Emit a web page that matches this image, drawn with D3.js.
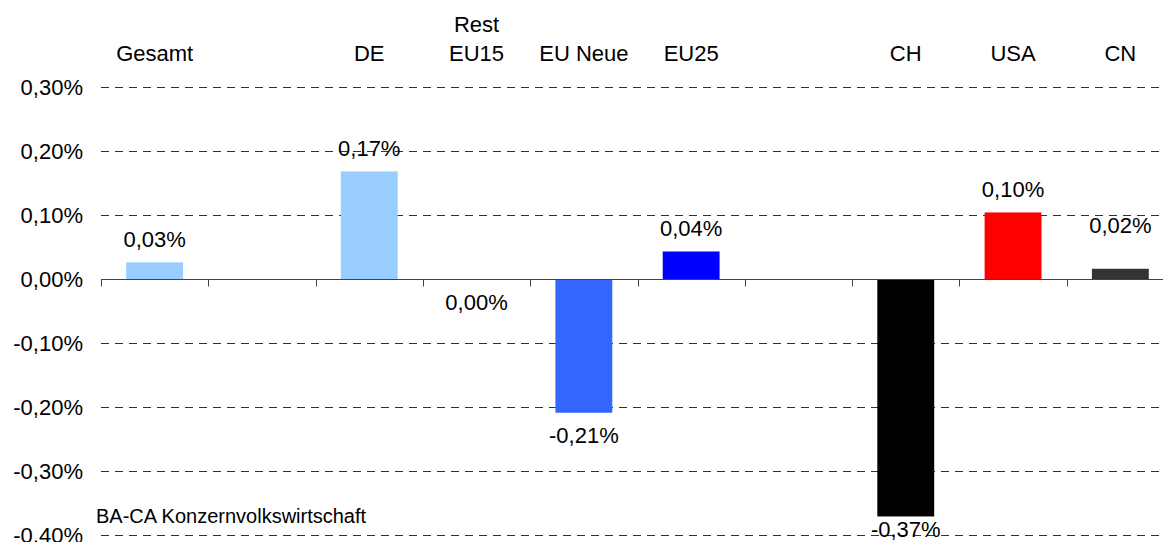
<!DOCTYPE html>
<html>
<head>
<meta charset="utf-8">
<script src="https://cdn.jsdelivr.net/npm/d3@7"></script>
<style>
  body { margin: 0; background: #fff; }
  svg { display: block; font-family: Arial, "Liberation Sans", sans-serif; }
</style>
</head>
<body>
<svg id="drawing_region"></svg>
<script>
// slots of the x axis (empty strings are the gaps between groups)
const categories = ["Gesamt", "", "DE", "Rest\nEU15", "EU Neue", "EU25", "", "CH", "USA", "CN"];
const values = [0.026, null, 0.168, -0.001, -0.209, 0.043, null, -0.371, 0.104, 0.016];
const colors = ["#99ccff", null, "#99ccff", "#000080", "#3366ff", "#0000ff", null, "#000000", "#ff0000", "#333333"];
const yTicks = [0.3, 0.2, 0.1, 0.0, -0.1, -0.2, -0.3, -0.4];
const source = "BA-CA Konzernvolkswirtschaft";

const config = {
    width: 1163,
    height: 542,
    left: 101,
    step: 107.3,
    top: 87,
    bottom: 535,
};

const locale = d3.formatLocale({decimal: ",", thousands: ".", grouping: [3], currency: ["", "€"], minus: "-"});
const fmt = locale.format(".2f");

const svg = d3.select("#drawing_region")
    .attr("width", config.width)
    .attr("height", config.height);

const xscale = d3.scaleBand()
    .domain(d3.range(categories.length))
    .range([config.left, config.left + config.step * categories.length])
    .paddingInner(0.47)
    .paddingOuter(0.235);

const yscale = d3.scaleLinear()
    .domain([-0.4, 0.3])
    .range([config.bottom, config.top]);

// dashed grid lines
svg.append("g")
    .selectAll("line")
    .data(yTicks.filter(d => d !== 0))
    .join("line")
    .attr("x1", config.left)
    .attr("x2", config.width)
    .attr("y1", d => Math.round(yscale(d)) + 0.5)
    .attr("y2", d => Math.round(yscale(d)) + 0.5)
    .attr("stroke", "#333")
    .attr("stroke-width", 1)
    .attr("stroke-dasharray", "8,6");

// y tick labels
svg.append("g")
    .selectAll("text")
    .data(yTicks)
    .join("text")
    .attr("x", 83)
    .attr("y", d => yscale(d))
    .attr("dy", "0.36em")
    .attr("text-anchor", "end")
    .attr("font-size", "22px")
    .attr("fill", "#000")
    .text(d => fmt(d) + "%");

// bars
const idx = d3.range(categories.length).filter(i => values[i] !== null);

svg.append("g")
    .selectAll("rect")
    .data(idx)
    .join("rect")
    .attr("x", i => xscale(i))
    .attr("width", xscale.bandwidth())
    .attr("y", i => Math.min(yscale(values[i]), yscale(0)))
    .attr("height", i => Math.max(1, Math.abs(yscale(values[i]) - yscale(0))))
    .attr("fill", i => colors[i]);

// zero axis with ticks at slot boundaries
const y0 = Math.round(yscale(0)) + 0.5;
const axis = svg.append("g").attr("stroke", "#444").attr("stroke-width", 1);
axis.append("line")
    .attr("x1", config.left)
    .attr("x2", config.width)
    .attr("y1", y0)
    .attr("y2", y0);
axis.selectAll(".tick")
    .data(d3.range(categories.length + 1))
    .join("line")
    .attr("class", "tick")
    .attr("x1", i => Math.round(config.left + i * config.step) + 0.5)
    .attr("x2", i => Math.round(config.left + i * config.step) + 0.5)
    .attr("y1", y0)
    .attr("y2", y0 + 7);

// value labels
const labelRaise = {"CN": 36};
svg.append("g")
    .selectAll("text")
    .data(idx)
    .join("text")
    .attr("x", i => xscale(i) + xscale.bandwidth() / 2)
    .attr("y", i => {
        const v = values[i];
        if (v >= 0) return yscale(v) - (labelRaise[categories[i]] || 15);
        return Math.min(yscale(v) + 30, config.bottom + 2);
    })
    .attr("text-anchor", "middle")
    .attr("font-size", "22px")
    .attr("fill", "#000")
    .text(i => fmt(values[i]) + "%");

// category labels on top
const cat = svg.append("g")
    .selectAll("text")
    .data(d3.range(categories.length).filter(i => categories[i] !== ""))
    .join("text")
    .attr("x", i => xscale(i) + xscale.bandwidth() / 2)
    .attr("y", 61)
    .attr("text-anchor", "middle")
    .attr("font-size", "22px")
    .attr("fill", "#000");

cat.each(function(i) {
    const lines = categories[i].split("\n");
    d3.select(this).selectAll("tspan")
        .data(lines)
        .join("tspan")
        .attr("x", xscale(i) + xscale.bandwidth() / 2)
        .attr("y", (d, k) => 61 - (lines.length - 1 - k) * 29)
        .text(d => d);
});

// source note
svg.append("text")
    .attr("x", 96)
    .attr("y", 523)
    .attr("font-size", "20px")
    .attr("fill", "#000")
    .text(source);
</script>
</body>
</html>
